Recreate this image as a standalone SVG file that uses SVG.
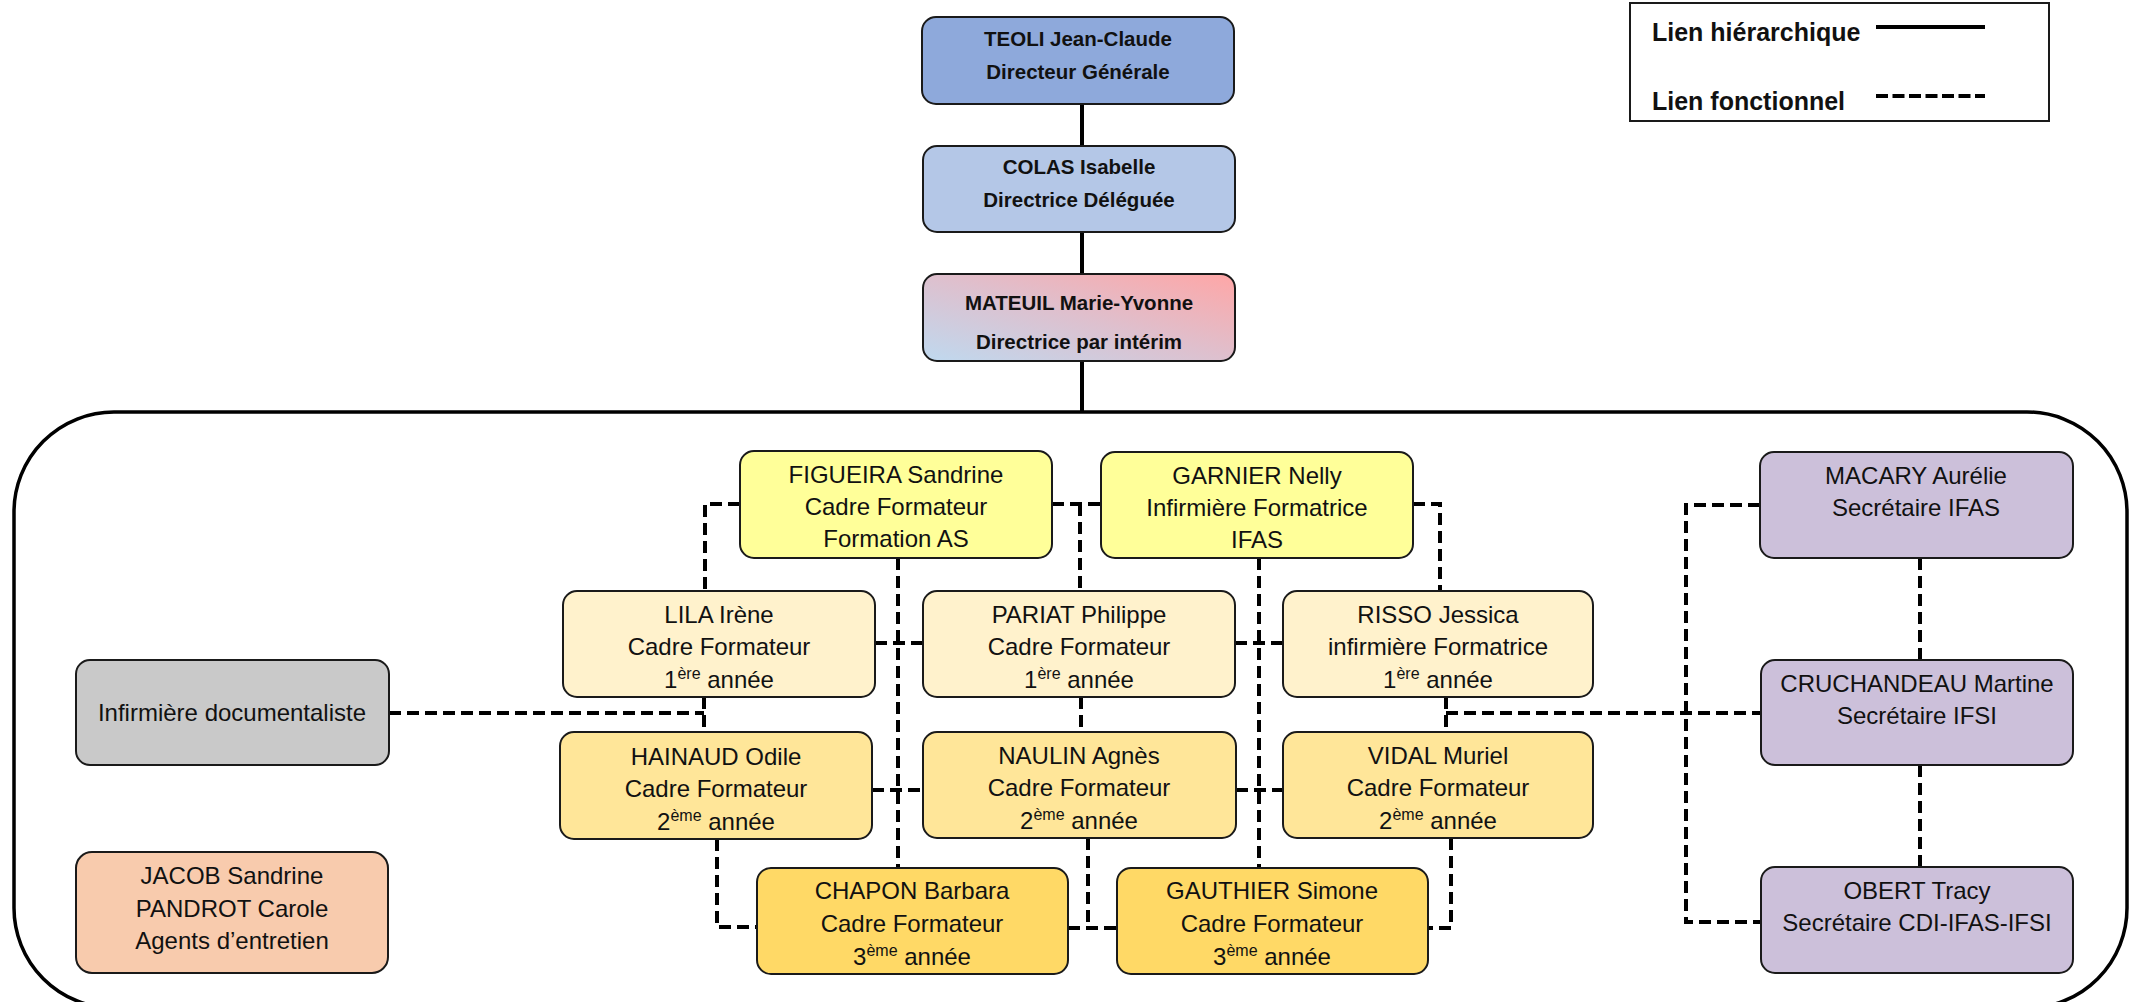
<svg xmlns="http://www.w3.org/2000/svg" width="2134" height="1002" viewBox="0 0 2134 1002">
<style>
.n{stroke:#1a1a1a;stroke-width:2}
.t{font-family:"Liberation Sans",Arial,sans-serif;font-size:24px;fill:#111;text-anchor:middle}
.b{font-family:"Liberation Sans",Arial,sans-serif;font-weight:bold;font-size:20.5px;fill:#111;text-anchor:middle}
.sup{font-size:16px}
.h{fill:none;stroke:#000;stroke-width:4}
.f{fill:none;stroke:#000;stroke-width:4;stroke-dasharray:12 6}
.c1{fill:#8EA9DB}.c2{fill:#B4C7E7}.cy{fill:#FFFF99}.c3{fill:#FFF2CC}.c4{fill:#FFE699}.c5{fill:#FFD966}.cg{fill:#C9C9C9}.co{fill:#F8CBAD}.cp{fill:#CCC0DA}
</style>
<defs>
<linearGradient id="gm" x1="0" y1="1" x2="1" y2="0">
<stop offset="0" stop-color="#BFD9EF"/>
<stop offset="0.5" stop-color="#DEC0CE"/>
<stop offset="1" stop-color="#FFA6A6"/>
</linearGradient>
</defs>
<rect width="2134" height="1002" fill="#fff"/>

<!-- container -->
<rect x="14" y="412" width="2113" height="596" rx="100" ry="100" fill="none" stroke="#000" stroke-width="3.5"/>

<!-- legend -->
<g id="legend">
<rect x="1630" y="3" width="419" height="118" fill="#fff" stroke="#1a1a1a" stroke-width="2"/>
<text x="1652" y="41" font-family="Liberation Sans,Arial,sans-serif" font-weight="bold" font-size="25" fill="#111">Lien hiérarchique</text>
<text x="1652" y="110" font-family="Liberation Sans,Arial,sans-serif" font-weight="bold" font-size="25" fill="#111">Lien fonctionnel</text>
<line x1="1876" y1="27" x2="1985" y2="27" class="h"/>
<line x1="1876" y1="96" x2="1985" y2="96" fill="none" stroke="#000" stroke-width="4" stroke-dasharray="12 4.5"/>
</g>

<g id="connectors">
<path class="h" d="M1082 104V146M1082 232V274M1082 361V412"/>
<path class="f" d="M740 504H705V591"/>
<path class="f" d="M1052 504H1101M1080 504V591"/>
<path class="f" d="M1413 504H1440V591"/>
<path class="f" d="M898 558V868"/>
<path class="f" d="M1259 558V868"/>
<path class="f" d="M875 643H923M1235 643H1283"/>
<path class="f" d="M872 790H923M1236 790H1283"/>
<path class="f" d="M704 697V732M389 713H704"/>
<path class="f" d="M1081 697V732"/>
<path class="f" d="M1446 697V732M1446 713H1761"/>
<path class="f" d="M717 839V927H757"/>
<path class="f" d="M1088 838V928M1068 928H1117"/>
<path class="f" d="M1451 838V928H1428"/>
<path class="f" d="M1760 505H1686V922H1761"/>
<path class="f" d="M1920 558V661M1920 765V867"/>
</g>

<g id="teoli"><rect class="n c1" x="922" y="17" width="312" height="87" rx="14"/>
<text class="b" x="1078" y="46">TEOLI Jean-Claude</text><text class="b" x="1078" y="79">Directeur Générale</text></g>
<g id="colas"><rect class="n c2" x="923" y="146" width="312" height="86" rx="14"/>
<text class="b" x="1079" y="174">COLAS Isabelle</text><text class="b" x="1079" y="207">Directrice Déléguée</text></g>
<g id="mateuil"><rect class="n" fill="url(#gm)" x="923" y="274" width="312" height="87" rx="14"/>
<text class="b" x="1079" y="310" font-size="18">MATEUIL Marie-Yvonne</text><text class="b" x="1079" y="349" font-size="17.5">Directrice par intérim</text></g>

<g id="figueira"><rect class="n cy" x="740" y="451" width="312" height="107" rx="14"/>
<text class="t" x="896" y="483">FIGUEIRA Sandrine</text><text class="t" x="896" y="515">Cadre Formateur</text><text class="t" x="896" y="547">Formation AS</text></g>
<g id="garnier"><rect class="n cy" x="1101" y="452" width="312" height="106" rx="14"/>
<text class="t" x="1257" y="484">GARNIER Nelly</text><text class="t" x="1257" y="516">Infirmière Formatrice</text><text class="t" x="1257" y="548">IFAS</text></g>

<g id="lila"><rect class="n c3" x="563" y="591" width="312" height="106" rx="14"/>
<text class="t" x="719" y="623">LILA Irène</text><text class="t" x="719" y="655">Cadre Formateur</text><text class="t" x="719" y="688">1<tspan class="sup" dy="-9">ère</tspan><tspan dy="9"> année</tspan></text></g>
<g id="pariat"><rect class="n c3" x="923" y="591" width="312" height="106" rx="14"/>
<text class="t" x="1079" y="623">PARIAT Philippe</text><text class="t" x="1079" y="655">Cadre Formateur</text><text class="t" x="1079" y="688">1<tspan class="sup" dy="-9">ère</tspan><tspan dy="9"> année</tspan></text></g>
<g id="risso"><rect class="n c3" x="1283" y="591" width="310" height="106" rx="14"/>
<text class="t" x="1438" y="623">RISSO Jessica</text><text class="t" x="1438" y="655">infirmière Formatrice</text><text class="t" x="1438" y="688">1<tspan class="sup" dy="-9">ère</tspan><tspan dy="9"> année</tspan></text></g>

<g id="hainaud"><rect class="n c4" x="560" y="732" width="312" height="107" rx="14"/>
<text class="t" x="716" y="765">HAINAUD Odile</text><text class="t" x="716" y="797">Cadre Formateur</text><text class="t" x="716" y="830">2<tspan class="sup" dy="-9">ème</tspan><tspan dy="9"> année</tspan></text></g>
<g id="naulin"><rect class="n c4" x="923" y="732" width="313" height="106" rx="14"/>
<text class="t" x="1079" y="764">NAULIN Agnès</text><text class="t" x="1079" y="796">Cadre Formateur</text><text class="t" x="1079" y="829">2<tspan class="sup" dy="-9">ème</tspan><tspan dy="9"> année</tspan></text></g>
<g id="vidal"><rect class="n c4" x="1283" y="732" width="310" height="106" rx="14"/>
<text class="t" x="1438" y="764">VIDAL Muriel</text><text class="t" x="1438" y="796">Cadre Formateur</text><text class="t" x="1438" y="829">2<tspan class="sup" dy="-9">ème</tspan><tspan dy="9"> année</tspan></text></g>

<g id="chapon"><rect class="n c5" x="757" y="868" width="311" height="106" rx="14"/>
<text class="t" x="912" y="899">CHAPON Barbara</text><text class="t" x="912" y="932">Cadre Formateur</text><text class="t" x="912" y="965">3<tspan class="sup" dy="-9">ème</tspan><tspan dy="9"> année</tspan></text></g>
<g id="gauthier"><rect class="n c5" x="1117" y="868" width="311" height="106" rx="14"/>
<text class="t" x="1272" y="899">GAUTHIER Simone</text><text class="t" x="1272" y="932">Cadre Formateur</text><text class="t" x="1272" y="965">3<tspan class="sup" dy="-9">ème</tspan><tspan dy="9"> année</tspan></text></g>

<g id="documentaliste"><rect class="n cg" x="76" y="660" width="313" height="105" rx="14"/>
<text class="t" x="232" y="721">Infirmière documentaliste</text></g>
<g id="jacob"><rect class="n co" x="76" y="852" width="312" height="121" rx="16"/>
<text class="t" x="232" y="884">JACOB Sandrine</text><text class="t" x="232" y="917">PANDROT Carole</text><text class="t" x="232" y="949">Agents d’entretien</text></g>

<g id="macary"><rect class="n cp" x="1760" y="452" width="313" height="106" rx="14"/>
<text class="t" x="1916" y="484">MACARY Aurélie</text><text class="t" x="1916" y="516">Secrétaire IFAS</text></g>
<g id="cruchandeau"><rect class="n cp" x="1761" y="660" width="312" height="105" rx="14"/>
<text class="t" x="1917" y="692">CRUCHANDEAU Martine</text><text class="t" x="1917" y="724">Secrétaire IFSI</text></g>
<g id="obert"><rect class="n cp" x="1761" y="867" width="312" height="106" rx="14"/>
<text class="t" x="1917" y="899">OBERT Tracy</text><text class="t" x="1917" y="931">Secrétaire CDI-IFAS-IFSI</text></g>
</svg>
